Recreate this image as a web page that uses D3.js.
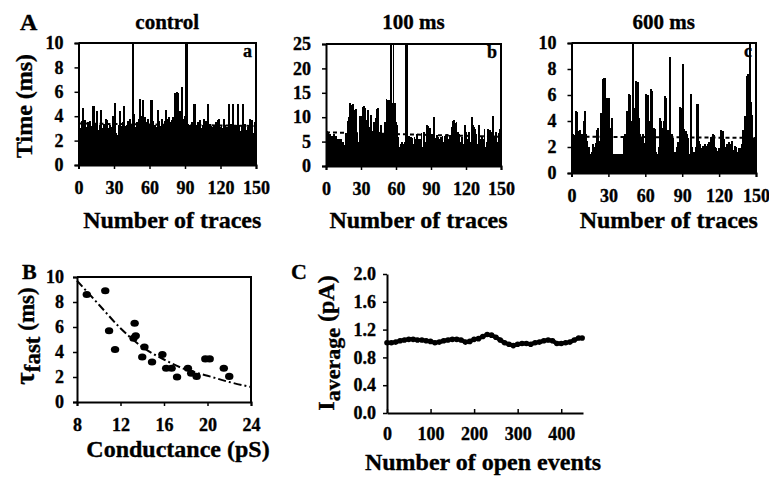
<!DOCTYPE html>
<html>
<head>
<meta charset="utf-8">
<script src="https://cdn.jsdelivr.net/npm/d3@7"></script>
<style>
  body { margin:0; background:#fff; }
  svg text { font-family: "Liberation Serif", "Times New Roman", serif; font-weight: bold; fill:#000; stroke:#000; stroke-width:0.35px; }
</style>
</head>
<body>
<script>
// ---- data ----
var traceTicks = [0, 30, 60, 90, 120, 150];

// A-a control : time (ms) per trace
var controlTimes = [
  3.3,3.0,3.6,4.7,3.2,3.7,3.1,3.5,2.9,3.6,
  3.2,4.8,4.8,3.0,3.4,4.4,2.9,3.3,4.5,3.0,
  2.9,3.4,3.8,3.7,3.0,2.8,3.3,3.1,4.0,3.2,
  5.1,2.6,2.5,3.3,4.4,3.1,3.2,3.5,4.8,3.2,
  3.3,3.6,3.2,3.8,3.4,10,4.2,3.1,3.0,3.5,
  3.8,5.4,3.9,4.0,5.3,3.9,3.0,3.5,3.8,3.4,
  5.3,5.3,3.6,3.0,3.3,3.1,4.5,3.6,2.6,3.2,
  3.8,3.4,3.6,4.5,3.6,3.8,3.9,3.5,3.7,3.9,
  3.9,5.9,6.0,5.9,3.9,4.4,4.0,6.4,3.8,4.0,
  10,10,3.4,3.3,3.2,3.5,3.1,5.0,5.0,3.3,
  3.5,3.2,3.7,3.0,3.3,3.8,3.2,3.6,3.1,5.0,
  3.4,3.2,3.0,3.1,3.3,3.5,2.9,3.7,3.8,3.1,
  3.2,3.0,3.8,3.3,2.9,3.1,5.0,3.2,3.4,3.2,
  5.0,3.2,3.3,3.0,5.0,3.3,2.8,3.2,5.0,3.1,
  3.4,2.9,3.1,3.3,3.8,3.0,3.7,2.6,3.5,3.2
];
var controlMean = [3.4, 3.2];
var controlTicks = [0, 2, 4, 6, 8, 10];

// A-b 100 ms
var ms100Times = [
  7.2,6.8,6.5,6.6,6.2,6.0,6.5,5.8,6.2,5.5,
  5.6,5.2,5.5,4.6,5.0,4.3,6.8,4.8,9.2,10.0,
  13.0,12.5,12.8,11.5,8.0,11.6,6.5,5.0,10.2,10.3,
  7.5,12.0,12.2,11.8,9.5,11.4,8.0,6.0,10.5,7.2,
  9.0,5.5,9.8,11.6,11.8,7.0,8.5,6.5,5.5,6.8,
  9.0,13.8,13.5,7.5,13.5,25,13.0,25,12.9,9.0,
  8.4,6.0,3.8,4.5,5.0,3.9,4.5,5.0,25,25,
  6.2,5.0,6.0,5.8,4.5,6.0,5.5,6.5,4.0,5.5,
  5.5,6.8,3.9,7.0,5.0,4.2,8.3,8.2,7.8,6.0,
  6.2,4.4,10.0,5.8,6.3,6.0,5.0,5.5,6.0,6.2,
  5.0,6.2,6.3,6.5,5.5,6.3,6.4,8.0,9.2,9.4,
  8.8,9.0,7.0,6.5,5.0,4.3,6.0,4.5,8.5,7.0,
  4.0,5.5,7.0,5.0,10.0,8.5,8.0,7.5,6.5,4.5,
  8.5,5.5,4.0,6.0,5.5,7.5,3.8,5.0,7.5,4.5,
  7.3,7.0,10.2,5.5,6.0,7.0,5.0,6.8,7.5,10.2
];
var ms100Mean = [6.9, 6.0];
var ms100Ticks = [0, 5, 10, 15, 20, 25];

// A-c 600 ms
var ms600Times = [
  3.0,2.9,2.8,4.8,4.7,3.2,3.3,2.5,3.0,4.0,
  4.8,3.0,2.5,2.0,1.5,1.5,1.6,2.2,2.0,2.3,
  3.3,3.5,2.5,4.6,3.2,7.2,7.3,4.1,5.8,5.7,
  5.8,3.5,4.2,1.5,1.5,1.5,1.5,1.5,1.5,1.5,
  1.5,1.5,2.8,3.0,4.8,3.5,6.1,6.0,4.0,10,
  4.8,5.0,7.1,7.0,4.2,3.0,2.8,3.0,1.9,2.3,
  6.1,6.0,4.0,2.5,6.5,6.3,3.5,3.4,1.6,1.5,
  2.0,4.2,4.0,3.5,4.0,5.9,5.8,2.9,3.3,8.9,
  2.7,3.0,2.7,1.6,1.5,2.0,2.4,5.1,5.0,4.0,
  8.4,3.4,3.2,3.0,2.7,1.5,6.1,2.0,1.5,1.6,
  2.0,5.3,5.3,2.5,2.2,1.9,2.1,2.0,2.2,2.1,
  2.2,2.4,2.0,2.8,3.0,2.9,2.0,1.9,1.7,1.9,
  1.8,3.3,3.2,2.6,1.8,2.0,2.2,2.4,2.0,2.2,
  2.5,1.8,2.1,2.0,1.6,1.9,1.8,1.9,2.2,3.3,
  4.4,4.3,7.5,7.6,10,5.5,4.5,2.7,2.6,2.7
];
var ms600Mean = [2.8, 2.7];
var ms600Ticks = [0, 2, 4, 6, 8, 10];

// B : tau fast vs conductance
var condPS  = [8.9,10.6,10.95,11.5,13.3,13.2,13.4,14.2,14.0,14.9,15.85,16.2,16.7,17.2,18.2,18.5,19.0,19.8,20.2,21.5,22.0];
var tauFast = [8.6,8.9,5.7,4.2,6.3,5.1,5.3,4.4,3.6,3.2,3.8,2.7,2.7,2.0,2.7,2.3,2.05,3.45,3.45,2.7,2.05];
var fitCond = [8,10,12,14,16,18,20,22,24];
var fitTau  = [9.7,7.8,5.9,4.4,3.4,2.6,2.1,1.6,1.2];
var condTicks = [8,12,16,20,24];
var tauTicks = [0,2,4,6,8,10];

// C : average current vs number of open events
var openEvents = [0,10,20,30,40,50,60,70,80,90,100,110,120,130,140,150,160,170,180,190,200,210,220,230,240,250,260,270,280,290,300,310,320,330,340,350,360,370,380,390,400,410,420,430,440,448];
var iAvg = [1.01,1.01,1.02,1.04,1.05,1.06,1.06,1.05,1.05,1.04,1.03,1.01,1.02,1.04,1.05,1.06,1.06,1.05,1.02,1.03,1.06,1.07,1.10,1.13,1.12,1.09,1.05,1.01,0.99,0.97,0.99,1.00,1.00,0.99,1.01,1.02,1.04,1.05,1.04,1.00,1.00,1.01,1.02,1.05,1.08,1.08];
var eventTicks = [0,100,200,300,400];
var iTicks = [0,0.4,0.8,1.2,1.6,2.0];

var svg = d3.select('body').append('svg')
    .attr('width', 769).attr('height', 477);

function styleAxis(g, size) {
  g.select('.domain').attr('stroke', '#000').attr('stroke-width', 2);
  g.selectAll('.tick line').attr('stroke', '#000').attr('stroke-width', 1.5);
  g.selectAll('.tick text').attr('font-size', size || 18);
  g.attr('font-family', null).attr('font-size', null);
}

function tracePanel(values, mean, yTicks, box, title, letter) {
  var g = svg.append('g');
  var x = d3.scaleLinear().domain([0, 150]).range([box.x0, box.x1]);
  var ymax = yTicks[yTicks.length - 1];
  var y = d3.scaleLinear().domain([0, ymax]).range([box.y1, box.y0]);
  var bw = x(1) - x(0);

  g.selectAll('rect.bar').data(values).join('rect')
    .attr('class', 'bar')
    .attr('x', function(d, i) { return x(i); })
    .attr('width', bw + 0.8)
    .attr('y', function(d) { return y(Math.min(d, ymax)); })
    .attr('height', function(d) { return box.y1 - y(Math.min(d, ymax)); })
    .attr('fill', '#000')
    .attr('shape-rendering', 'crispEdges');

  // mean (dashed)
  g.append('line')
    .attr('x1', x(0)).attr('y1', y(mean[0]))
    .attr('x2', x(150)).attr('y2', y(mean[1]))
    .attr('stroke', '#000').attr('stroke-width', 2)
    .attr('stroke-dasharray', '4,3');

  // box top + right
  g.append('path')
    .attr('d', 'M' + x(0) + ',' + y(ymax) + 'H' + x(150) + 'V' + y(0))
    .attr('fill', 'none').attr('stroke', '#000').attr('stroke-width', 2);

  g.append('g').attr('transform', 'translate(0,' + box.y1 + ')')
    .call(d3.axisBottom(x).tickValues(traceTicks).tickSize(4).tickPadding(12))
    .call(styleAxis);
  g.append('g').attr('transform', 'translate(' + box.x0 + ',0)')
    .call(d3.axisLeft(y).tickValues(yTicks).tickSize(4).tickPadding(11))
    .call(styleAxis);

  g.append('text').attr('x', (box.x0 + box.x1) / 2).attr('y', 29)
    .attr('text-anchor', 'middle').attr('font-size', 21).text(title);
  g.append('text').attr('x', box.x1 - 4).attr('y', box.y0 + 14)
    .attr('text-anchor', 'end').attr('font-size', 18).text(letter);
  g.append('text').attr('x', (box.x0 + box.x1) / 2 + 5).attr('y', 228)
    .attr('text-anchor', 'middle').attr('font-size', 24).text('Number of traces');
}

tracePanel(controlTimes, controlMean, controlTicks, {x0: 78.5, x1: 256, y0: 43, y1: 165}, 'control', 'a');
tracePanel(ms100Times, ms100Mean, ms100Ticks, {x0: 326, x1: 501, y0: 44, y1: 166}, '100 ms', 'b');
tracePanel(ms600Times, ms600Mean, ms600Ticks, {x0: 571.5, x1: 756, y0: 43, y1: 173}, '600 ms', 'c');

svg.append('text').attr('x', 20).attr('y', 30).attr('font-size', 24).text('A');
svg.append('text').attr('transform', 'translate(32,106) rotate(-90)')
  .attr('text-anchor', 'middle').attr('font-size', 24).text('Time (ms)');

// ---- B ----
(function() {
  var g = svg.append('g');
  var x = d3.scaleLinear().domain([8, 24]).range([77, 251]);
  var y = d3.scaleLinear().domain([0, 10]).range([402, 277]);

  g.append('path')
    .attr('d', 'M' + x(8) + ',' + y(10) + 'H' + x(24) + 'V' + y(0))
    .attr('fill', 'none').attr('stroke', '#000').attr('stroke-width', 2);

  var fit = d3.line().x(function(d, i) { return x(fitCond[i]); })
    .y(function(d) { return y(d); }).curve(d3.curveMonotoneX);
  g.append('path').attr('d', fit(fitTau))
    .attr('fill', 'none').attr('stroke', '#000').attr('stroke-width', 2)
    .attr('stroke-dasharray', '8,3,2,3');

  g.selectAll('ellipse').data(tauFast).join('ellipse')
    .attr('cx', function(d, i) { return x(condPS[i]); })
    .attr('cy', function(d) { return y(d); })
    .attr('rx', 4.2).attr('ry', 3.6).attr('fill', '#000');

  g.append('g').attr('transform', 'translate(0,402)')
    .call(d3.axisBottom(x).tickValues(condTicks).tickSize(4).tickPadding(12))
    .call(styleAxis);
  g.append('g').attr('transform', 'translate(77,0)')
    .call(d3.axisLeft(y).tickValues(tauTicks).tickSize(4).tickPadding(9))
    .call(styleAxis);

  svg.append('text').attr('x', 22).attr('y', 279).attr('font-size', 22).text('B');
  var t = svg.append('text').attr('transform', 'translate(34,336) rotate(-90)')
    .attr('text-anchor', 'middle').attr('font-size', 23);
  t.append('tspan').attr('font-size', 27).text('\u03c4');
  t.append('tspan').attr('dy', 6).text('fast');
  t.append('tspan').attr('dy', -6).text(' (ms)');
  svg.append('text').attr('x', 178).attr('y', 457).attr('text-anchor', 'middle')
    .attr('font-size', 24).text('Conductance (pS)');
})();

// ---- C ----
(function() {
  var g = svg.append('g');
  var x = d3.scaleLinear().domain([0, 450]).range([387, 583]);
  var y = d3.scaleLinear().domain([0, 2]).range([413, 274]);

  var line = d3.line().x(function(d, i) { return x(openEvents[i]); })
    .y(function(d) { return y(d); });
  g.append('path').attr('d', line(iAvg))
    .attr('fill', 'none').attr('stroke', '#000').attr('stroke-width', 4);
  g.selectAll('circle').data(iAvg).join('circle')
    .attr('cx', function(d, i) { return x(openEvents[i]); })
    .attr('cy', function(d) { return y(d); })
    .attr('r', 2.8).attr('fill', '#000');

  g.append('g').attr('transform', 'translate(0,413)')
    .call(d3.axisBottom(x).tickValues(eventTicks).tickSizeInner(-4).tickSizeOuter(0).tickPadding(14))
    .call(styleAxis);
  g.append('g').attr('transform', 'translate(387,0)')
    .call(d3.axisLeft(y).tickValues(iTicks).tickSizeInner(4).tickSizeOuter(0).tickPadding(7).tickFormat(d3.format('.1f')))
    .call(styleAxis);

  svg.append('text').attr('x', 291).attr('y', 279).attr('font-size', 22).text('C');
  var t = svg.append('text').attr('transform', 'translate(334,343) rotate(-90)')
    .attr('text-anchor', 'middle').attr('font-size', 24);
  t.append('tspan').text('I');
  t.append('tspan').attr('dy', 6).attr('font-size', 22).text('average');
  t.append('tspan').attr('dy', -6).text(' (pA)');
  svg.append('text').attr('x', 483).attr('y', 470).attr('text-anchor', 'middle')
    .attr('font-size', 24).text('Number of open events');
})();
</script>
</body>
</html>
